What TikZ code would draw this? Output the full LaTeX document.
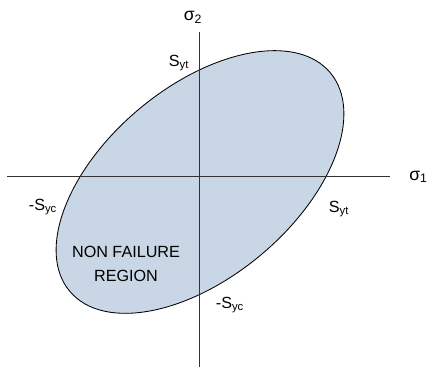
\documentclass[tikz,border=0pt]{standalone}
\usepackage{fontspec}
\setmainfont{Liberation Sans}
\usetikzlibrary{positioning}

\definecolor{regionfill}{RGB}{201,214,229}
\definecolor{axisgray}{RGB}{50,50,50}

\begin{document}
\begin{tikzpicture}[x=0.025cm, y=0.025cm,
    axisline/.style={draw=axisgray, line width=0.7pt},
    lbl/.style={inner sep=0pt, font=\fontsize{11.5}{13}\selectfont}]
  \useasboundingbox (0,0) rectangle (429,367);

  % non failure region
  \draw[fill=regionfill, line width=0.6pt, rotate around={40:(200,185)}]
    (200,185) ellipse [x radius=4.25cm, y radius=2.375cm];

  % axes
  \coordinate (xl) at (7,191);
  \coordinate (xr) at (390,191);
  \coordinate (yb) at (199,0);
  \coordinate (yt) at (199,335);
  \draw[axisline] (xl) -- (xr);
  \draw[axisline] (yb) -- (yt);

  % labels
  \node[lbl, anchor=west, font=\fontsize{12.5}{14}\selectfont] (sig1) at (409,190) {σ\textsubscript{1}};
  \node[lbl, font=\fontsize{12.5}{14}\selectfont] (sig2) at (193,350) {σ\textsubscript{2}};
  \node[lbl] (sytup) at (179,304) {S\textsubscript{yt}};
  \node[lbl] (sytright) at (339,158) {S\textsubscript{yt}};
  \node[lbl] (sycleft) at (43,160) {-S\textsubscript{yc}};
  \node[lbl] (sycdown) at (230,62) {-S\textsubscript{yc}};
  \node[lbl, align=center, font=\fontsize{11.5}{17}\selectfont] (region) at (126,103) {NON FAILURE\\REGION};
\end{tikzpicture}
\end{document}
